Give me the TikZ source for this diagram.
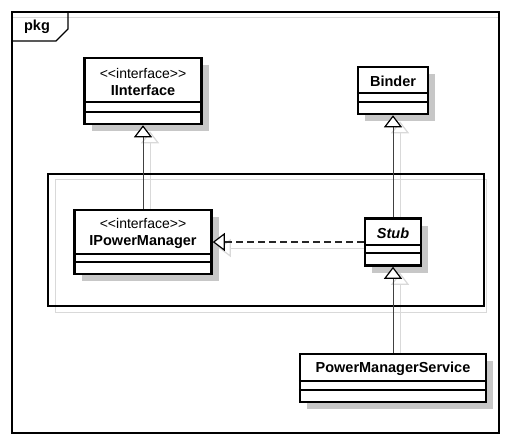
\documentclass[tikz,border=0pt]{standalone}
\usepackage{fontspec}
\setmainfont{Liberation Sans}
\usetikzlibrary{arrows.meta,shadows,backgrounds}
\tikzset{
  classbox/.style={draw, line width=2.5pt, fill=white, inner sep=0pt,
    drop shadow={shadow xshift=7pt, shadow yshift=-7pt, fill=black!22, opacity=1}},
  cname/.style={font=\bfseries\fontsize{14.5}{17}\selectfont, inner sep=0pt},
  stereo/.style={font=\fontsize{14}{17}\selectfont, inner sep=0pt},
  compartment/.style={line width=1.3pt},
  frame/.style={line width=1.2pt},
  gen/.style={draw=black!75, line width=1pt,
    -{Triangle[length=12pt, width=18pt, line width=1.2pt, color=black, fill=white]}},
  gen shade/.style={draw=black!15, line width=1pt,
    -{Triangle[length=12pt, width=18pt, line width=1.2pt, color=black!15, fill=white]}},
  real/.style={gen, draw=black!85, line width=1.2pt, dash pattern=on 6.5pt off 4.5pt},
}
\begin{document}
\begin{tikzpicture}[x=1pt, y=-1pt]
  \useasboundingbox (0,0) rectangle (515,445);
  % package frames
  \draw[black!15, line width=1pt] (13,17) -- (498,17);
  \draw[frame] (12,12) rectangle (499,433);
  \draw[frame] (12,41) -- (56,41) -- (68,29) -- (68,12);
  \node[cname] (pkg) at (37,27) {pkg};
  \draw[black!15, line width=1pt] (55,179) rectangle (486,312);
  \draw[frame] (48,174) rectangle (484,306);
  % classes
  \node[classbox, minimum width=117pt, minimum height=66pt] (iint) at (143,91) {};
  \node[classbox, minimum width=70pt, minimum height=47pt] (binder) at (393,90.5) {};
  \node[classbox, minimum width=137pt, minimum height=64pt] (ipm) at (143,242) {};
  \node[classbox, minimum width=56pt, minimum height=47pt] (stub) at (393,242) {};
  \node[classbox, minimum width=186pt, minimum height=48pt] (pms) at (393,378) {};
  \node[stereo] (iint-s) at (143,73) {<\kern0pt<interface>\kern0pt>};
  \node[cname] (iint-n) at (143,90) {IInterface};
  \node[cname] (binder-n) at (393,81) {Binder};
  \node[stereo] (ipm-s) at (143,223) {<\kern0pt<interface>\kern0pt>};
  \node[cname] (ipm-n) at (143,242) {IPowerManager};
  \node[cname, font=\bfseries\itshape\fontsize{14.5}{17}\selectfont] (stub-n) at (393,233) {Stub};
  \node[cname] (pms-n) at (393,369) {PowerManagerService};
  \foreach \n/\a/\b in {iint/102/112, binder/93/102, ipm/254/262, stub/245/253, pms/381/390} {
    \draw[compartment] (\n.west |- 0,\a) -- (\n.east |- 0,\a);
    \draw[compartment] (\n.west |- 0,\b) -- (\n.east |- 0,\b);
  }
  % relations
  \begin{scope}[on background layer]
    \draw[gen shade] ([xshift=7pt]ipm.north) -- ([xshift=7pt, yshift=-6pt]iint.south);
    \draw[gen shade] ([xshift=7pt]stub.north) -- ([xshift=7pt, yshift=-6pt]binder.south);
    \draw[gen shade] ([xshift=7pt]pms.north) -- ([xshift=7pt, yshift=-6pt]stub.south);
    \draw[gen shade] ([yshift=-6pt]stub.west) -- ([xshift=6pt, yshift=-6pt]ipm.east);
  \end{scope}
  \draw[gen] (ipm.north) -- (iint.south);
  \draw[gen] (stub.north) -- (binder.south);
  \draw[gen] (pms.north) -- (stub.south);
  \draw[real] (stub.west) -- (ipm.east);
\end{tikzpicture}
\end{document}
